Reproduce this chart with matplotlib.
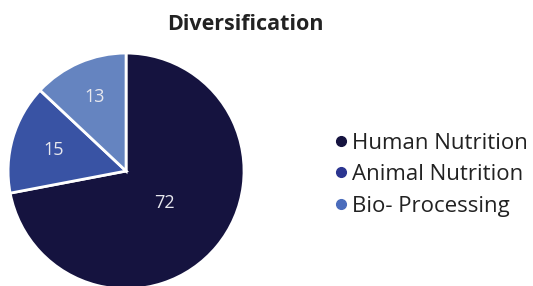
import numpy as np
import matplotlib.pyplot as plt
from matplotlib.lines import Line2D

categories = ["Human Nutrition", "Animal Nutrition", "Bio- Processing"]
values = [72, 15, 13]
colors = ["#15133f", "#3953a4", "#6584c0"]
marker_colors = ["#15133f", "#2b3590", "#4a6cbc"]

fig = plt.figure(figsize=(5.33, 2.86), dpi=100)
ax = fig.add_axes([0.015, -0.0105, 0.443, 0.825])

wedges, _ = ax.pie(values, colors=colors, startangle=90, counterclock=False,
                   wedgeprops=dict(edgecolor="white", linewidth=2))
ax.set_xlim(-1, 1)
ax.set_ylim(-1, 1)
ax.set_aspect("equal")

# label positions (fraction of radius) similar to Excel placement
dists = [0.42, 0.64, 0.68]
for w, v, d in zip(wedges, values, dists):
    ang = np.deg2rad((w.theta1 + w.theta2) / 2)
    ax.text(d * np.cos(ang), d * np.sin(ang), str(v), color="#e8e8ee",
            ha="center", va="center", fontsize=13, family="Open Sans")

fig.text(0.461, 0.915, "Diversification", ha="center", va="center",
         fontsize=15.5, fontweight="bold", family="Open Sans", color="#222222")

handles = [Line2D([], [], marker="o", linestyle="", markersize=7,
                  markerfacecolor=c, markeredgecolor=c) for c in marker_colors]
leg = fig.legend(handles, categories, loc="center left",
                 bbox_to_anchor=(0.627, 0.389), frameon=False, borderpad=0,
                 borderaxespad=0,
                 prop=dict(family="Open Sans", size=16),
                 handletextpad=0.2, labelspacing=0.48, handlelength=0.6)
for t in leg.get_texts():
    t.set_color("#222222")

plt.savefig("out.png", dpi=100)
